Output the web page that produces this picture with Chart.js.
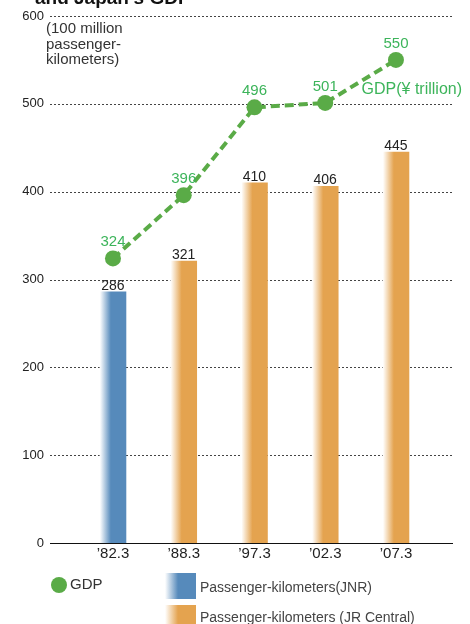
<!DOCTYPE html>
<html>
<head>
<meta charset="utf-8">
<script src="https://cdn.jsdelivr.net/npm/chart.js@4"></script>
<style>
  html, body { margin: 0; padding: 0; background: #fff; }
  #wrap { width: 470px; height: 624px; position: relative; }
</style>
</head>
<body>
<div id="wrap"><canvas id="c" width="470" height="624"></canvas></div>
<script>
// Fiscal-year periods shown on the horizontal axis
const periods = ['\u201982.3', '\u201988.3', '\u201997.3', '\u201902.3', '\u201907.3'];
// Passenger-kilometers (100 million), JNR era and JR Central era
const jnrKm = [286, null, null, null, null];
const jrcKm = [null, 321, 410, 406, 445];
// Japan's GDP (trillion yen)
const gdp = [324, 396, 496, 501, 550];
// Vertical axis ticks
const yTicks = [0, 100, 200, 300, 400, 500, 600];

const BLUE = '#568abb';
const ORANGE = '#e4a34f';
const GREEN_PT = '#5aab47';
const GREEN_TXT = '#3cb45a';
const FONT = '"Liberation Sans", Arial, Helvetica, sans-serif';

const toXY = arr => arr.map((v, i) => ({ x: i, y: v }));

// Bars fade in from white on their left side
function barFill(color) {
  return function (ctx) {
    const chart = ctx.chart;
    const xs = chart.scales.x;
    if (!xs || !chart.chartArea) return color;
    const cx = xs.getPixelForValue(ctx.dataIndex);
    const g = chart.ctx.createLinearGradient(cx - 13, 0, cx + 13, 0);
    g.addColorStop(0, 'rgba(255,255,255,1)');
    g.addColorStop(0.42, color);
    g.addColorStop(1, color);
    return g;
  };
}

const decorations = {
  id: 'decorations',
  beforeDatasetsDraw(chart) {
    const { ctx, chartArea, scales } = chart;
    ctx.save();
    // dashed horizontal grid lines
    ctx.strokeStyle = '#444';
    ctx.lineWidth = 1;
    ctx.setLineDash([2, 2]);
    yTicks.forEach(v => {
      if (v === 0) return;
      const y = Math.round(scales.y.getPixelForValue(v)) + 0.5;
      ctx.beginPath();
      ctx.moveTo(chartArea.left, y);
      ctx.lineTo(chartArea.right, y);
      ctx.stroke();
    });
    ctx.restore();
  },
  afterDraw(chart) {
    const { ctx, scales } = chart;
    ctx.save();
    // heading (second line, partly above the canvas)
    ctx.fillStyle = '#111';
    ctx.font = 'bold 19px ' + FONT;
    ctx.textBaseline = 'alphabetic';
    ctx.textAlign = 'left';
    ctx.fillText('and Japan\u2019s GDP', 35, 4);

    // unit note for the vertical axis
    ctx.fillStyle = '#333';
    ctx.font = '15px ' + FONT;
    ctx.textBaseline = 'middle';
    ['(100 million', 'passenger-', 'kilometers)'].forEach((t, i) => {
      ctx.fillText(t, 46, 29 + i * 15.5);
    });

    // GDP unit
    ctx.fillStyle = GREEN_TXT;
    ctx.font = '16px ' + FONT;
    ctx.textAlign = 'right';
    ctx.fillText('GDP(\u00a5 trillion)', 462, 90);

    // bar value labels
    ctx.fillStyle = '#222';
    ctx.font = '14px ' + FONT;
    ctx.textAlign = 'center';
    ctx.textBaseline = 'alphabetic';
    [jnrKm, jrcKm].forEach(arr => arr.forEach((v, i) => {
      if (v == null) return;
      ctx.fillText(String(v), scales.x.getPixelForValue(i), scales.y.getPixelForValue(v) - 2);
    }));

    // GDP value labels
    ctx.fillStyle = GREEN_TXT;
    ctx.font = '15px ' + FONT;
    gdp.forEach((v, i) => {
      ctx.fillText(String(v), scales.x.getPixelForValue(i), scales.y.getPixelForValue(v) - 12);
    });

    // legend
    ctx.fillStyle = GREEN_PT;
    ctx.beginPath();
    ctx.arc(59, 585, 8, 0, Math.PI * 2);
    ctx.fill();
    ctx.fillStyle = '#333';
    ctx.font = '15px ' + FONT;
    ctx.textAlign = 'left';
    ctx.textBaseline = 'middle';
    ctx.fillText('GDP', 70, 585);

    const swatch = (y, color) => {
      const g = ctx.createLinearGradient(165, 0, 196, 0);
      g.addColorStop(0, 'rgba(255,255,255,1)');
      g.addColorStop(0.42, color);
      g.addColorStop(1, color);
      ctx.fillStyle = g;
      ctx.fillRect(165, y, 31, 26);
    };
    swatch(573, BLUE);
    swatch(605, ORANGE);
    ctx.fillStyle = '#444';
    ctx.font = '14px ' + FONT;
    ctx.fillText('Passenger-kilometers(JNR)', 200, 588);
    ctx.fillText('Passenger-kilometers (JR Central)', 200, 618);
    ctx.restore();
  }
};

new Chart(document.getElementById('c'), {
  type: 'bar',
  data: {
    datasets: [
      {
        type: 'line',
        label: 'GDP',
        data: toXY(gdp),
        borderColor: GREEN_PT,
        backgroundColor: GREEN_PT,
        borderWidth: 4,
        borderDash: [9, 5],
        pointRadius: 8,
        pointHoverRadius: 8,
        pointBorderWidth: 0,
        pointBackgroundColor: GREEN_PT,
        tension: 0,
        order: 0
      },
      {
        label: 'Passenger-kilometers(JNR)',
        data: toXY(jnrKm),
        backgroundColor: barFill(BLUE),
        barThickness: 26,
        grouped: false,
        order: 1
      },
      {
        label: 'Passenger-kilometers (JR Central)',
        data: toXY(jrcKm),
        backgroundColor: barFill(ORANGE),
        barThickness: 26,
        grouped: false,
        order: 1
      }
    ]
  },
  options: {
    responsive: false,
    animation: false,
    events: [],
    layout: { padding: { left: 0, right: 18, top: 16, bottom: 0 } },
    plugins: { legend: { display: false }, tooltip: { enabled: false } },
    scales: {
      x: {
        type: 'linear',
        offset: false,
        min: -0.89,
        max: 4.792,
        afterBuildTicks: s => { s.ticks = periods.map((_, i) => ({ value: i })); },
        afterFit: s => { s.height = 81; },
        grid: { display: false, drawTicks: false, offset: false },
        border: { display: true, color: '#111', width: 1 },
        ticks: {
          padding: 2,
          autoSkip: false,
          maxRotation: 0,
          color: '#222',
          font: { family: FONT, size: 15 },
          callback: v => periods[v] ?? ''
        }
      },
      y: {
        min: 0,
        max: 600,
        afterBuildTicks: s => { s.ticks = yTicks.map(v => ({ value: v })); },
        afterFit: s => { s.width = 50; },
        grid: { display: false, drawTicks: false },
        border: { display: false },
        ticks: {
          padding: 6,
          color: '#222',
          font: { family: FONT, size: 13 }
        }
      }
    }
  },
  plugins: [decorations]
});
</script>
</body>
</html>
